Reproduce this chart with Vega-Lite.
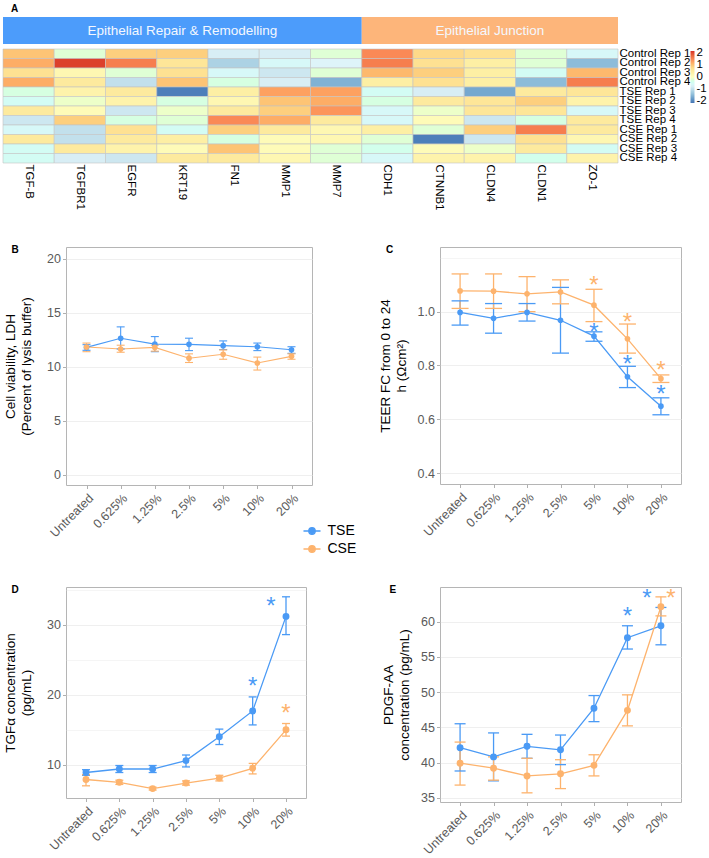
{
"$schema": "https://vega.github.io/schema/vega-lite/v6.json",
"padding": {"left": 2, "top": 4, "right": 0, "bottom": 0},
"background": "white",
"config": {"font": "Liberation Sans", "view": {"stroke": "#B5B5B5", "strokeWidth": 1}},
"datasets": {
"banner": [
{"group": "Epithelial Repair & Remodelling", "start": 0, "end": 7},
{"group": "Epithelial Junction", "start": 7, "end": 12}
],
"heat": [
{"s":"Control Rep 1","g":"TGF-B","z":1.0},{"s":"Control Rep 1","g":"TGFBR1","z":-0.2},{"s":"Control Rep 1","g":"EGFR","z":0.9},{"s":"Control Rep 1","g":"KRT19","z":0.9},{"s":"Control Rep 1","g":"FN1","z":-0.8},{"s":"Control Rep 1","g":"MMP1","z":-0.8},{"s":"Control Rep 1","g":"MMP7","z":-0.2},{"s":"Control Rep 1","g":"CDH1","z":1.5},{"s":"Control Rep 1","g":"CTNNB1","z":0.8},{"s":"Control Rep 1","g":"CLDN4","z":0.7},{"s":"Control Rep 1","g":"CLDN1","z":-0.2},{"s":"Control Rep 1","g":"ZO-1","z":-0.6},
{"s":"Control Rep 2","g":"TGF-B","z":1.2},{"s":"Control Rep 2","g":"TGFBR1","z":2.1},{"s":"Control Rep 2","g":"EGFR","z":1.6},{"s":"Control Rep 2","g":"KRT19","z":0.6},{"s":"Control Rep 2","g":"FN1","z":-1.2},{"s":"Control Rep 2","g":"MMP1","z":-0.6},{"s":"Control Rep 2","g":"MMP7","z":-0.7},{"s":"Control Rep 2","g":"CDH1","z":1.6},{"s":"Control Rep 2","g":"CTNNB1","z":0.7},{"s":"Control Rep 2","g":"CLDN4","z":0.4},{"s":"Control Rep 2","g":"CLDN1","z":-0.2},{"s":"Control Rep 2","g":"ZO-1","z":-1.5},
{"s":"Control Rep 3","g":"TGF-B","z":0.7},{"s":"Control Rep 3","g":"TGFBR1","z":0.2},{"s":"Control Rep 3","g":"EGFR","z":-0.2},{"s":"Control Rep 3","g":"KRT19","z":0.7},{"s":"Control Rep 3","g":"FN1","z":-0.6},{"s":"Control Rep 3","g":"MMP1","z":-0.9},{"s":"Control Rep 3","g":"MMP7","z":-0.2},{"s":"Control Rep 3","g":"CDH1","z":1.1},{"s":"Control Rep 3","g":"CTNNB1","z":0.9},{"s":"Control Rep 3","g":"CLDN4","z":0.4},{"s":"Control Rep 3","g":"CLDN1","z":-0.5},{"s":"Control Rep 3","g":"ZO-1","z":1.1},
{"s":"Control Rep 4","g":"TGF-B","z":1.2},{"s":"Control Rep 4","g":"TGFBR1","z":0.5},{"s":"Control Rep 4","g":"EGFR","z":-1.0},{"s":"Control Rep 4","g":"KRT19","z":1.0},{"s":"Control Rep 4","g":"FN1","z":-0.3},{"s":"Control Rep 4","g":"MMP1","z":-0.8},{"s":"Control Rep 4","g":"MMP7","z":-1.6},{"s":"Control Rep 4","g":"CDH1","z":0.4},{"s":"Control Rep 4","g":"CTNNB1","z":0.7},{"s":"Control Rep 4","g":"CLDN4","z":0.4},{"s":"Control Rep 4","g":"CLDN1","z":-1.5},{"s":"Control Rep 4","g":"ZO-1","z":1.6},
{"s":"TSE Rep 1","g":"TGF-B","z":-0.3},{"s":"TSE Rep 1","g":"TGFBR1","z":0.3},{"s":"TSE Rep 1","g":"EGFR","z":0.5},{"s":"TSE Rep 1","g":"KRT19","z":-2.1},{"s":"TSE Rep 1","g":"FN1","z":0.4},{"s":"TSE Rep 1","g":"MMP1","z":1.3},{"s":"TSE Rep 1","g":"MMP7","z":1.3},{"s":"TSE Rep 1","g":"CDH1","z":-0.5},{"s":"TSE Rep 1","g":"CTNNB1","z":-0.8},{"s":"TSE Rep 1","g":"CLDN4","z":-1.7},{"s":"TSE Rep 1","g":"CLDN1","z":0.5},{"s":"TSE Rep 1","g":"ZO-1","z":0.6},
{"s":"TSE Rep 2","g":"TGF-B","z":-0.5},{"s":"TSE Rep 2","g":"TGFBR1","z":-0.1},{"s":"TSE Rep 2","g":"EGFR","z":0.3},{"s":"TSE Rep 2","g":"KRT19","z":-0.3},{"s":"TSE Rep 2","g":"FN1","z":0.2},{"s":"TSE Rep 2","g":"MMP1","z":1.0},{"s":"TSE Rep 2","g":"MMP7","z":1.2},{"s":"TSE Rep 2","g":"CDH1","z":-0.3},{"s":"TSE Rep 2","g":"CTNNB1","z":0.5},{"s":"TSE Rep 2","g":"CLDN4","z":0.6},{"s":"TSE Rep 2","g":"CLDN1","z":0.9},{"s":"TSE Rep 2","g":"ZO-1","z":0.3},
{"s":"TSE Rep 3","g":"TGF-B","z":0.5},{"s":"TSE Rep 3","g":"TGFBR1","z":0.1},{"s":"TSE Rep 3","g":"EGFR","z":-0.9},{"s":"TSE Rep 3","g":"KRT19","z":-0.1},{"s":"TSE Rep 3","g":"FN1","z":0.5},{"s":"TSE Rep 3","g":"MMP1","z":0.9},{"s":"TSE Rep 3","g":"MMP7","z":1.4},{"s":"TSE Rep 3","g":"CDH1","z":-0.6},{"s":"TSE Rep 3","g":"CTNNB1","z":-0.1},{"s":"TSE Rep 3","g":"CLDN4","z":0.6},{"s":"TSE Rep 3","g":"CLDN1","z":0.6},{"s":"TSE Rep 3","g":"ZO-1","z":-0.6},
{"s":"TSE Rep 4","g":"TGF-B","z":-0.9},{"s":"TSE Rep 4","g":"TGFBR1","z":0.9},{"s":"TSE Rep 4","g":"EGFR","z":-0.3},{"s":"TSE Rep 4","g":"KRT19","z":-0.2},{"s":"TSE Rep 4","g":"FN1","z":1.5},{"s":"TSE Rep 4","g":"MMP1","z":1.2},{"s":"TSE Rep 4","g":"MMP7","z":0.5},{"s":"TSE Rep 4","g":"CDH1","z":-0.6},{"s":"TSE Rep 4","g":"CTNNB1","z":0.1},{"s":"TSE Rep 4","g":"CLDN4","z":-0.9},{"s":"TSE Rep 4","g":"CLDN1","z":-0.3},{"s":"TSE Rep 4","g":"ZO-1","z":0.5},
{"s":"CSE Rep 1","g":"TGF-B","z":-0.6},{"s":"CSE Rep 1","g":"TGFBR1","z":-1.0},{"s":"CSE Rep 1","g":"EGFR","z":0.7},{"s":"CSE Rep 1","g":"KRT19","z":-0.5},{"s":"CSE Rep 1","g":"FN1","z":0.9},{"s":"CSE Rep 1","g":"MMP1","z":0.5},{"s":"CSE Rep 1","g":"MMP7","z":0.2},{"s":"CSE Rep 1","g":"CDH1","z":0.4},{"s":"CSE Rep 1","g":"CTNNB1","z":-0.2},{"s":"CSE Rep 1","g":"CLDN4","z":0.9},{"s":"CSE Rep 1","g":"CLDN1","z":1.6},{"s":"CSE Rep 1","g":"ZO-1","z":0.5},
{"s":"CSE Rep 2","g":"TGF-B","z":0.5},{"s":"CSE Rep 2","g":"TGFBR1","z":-1.0},{"s":"CSE Rep 2","g":"EGFR","z":0.5},{"s":"CSE Rep 2","g":"KRT19","z":0.4},{"s":"CSE Rep 2","g":"FN1","z":-0.3},{"s":"CSE Rep 2","g":"MMP1","z":0.1},{"s":"CSE Rep 2","g":"MMP7","z":0.2},{"s":"CSE Rep 2","g":"CDH1","z":-0.2},{"s":"CSE Rep 2","g":"CTNNB1","z":-2.1},{"s":"CSE Rep 2","g":"CLDN4","z":-0.9},{"s":"CSE Rep 2","g":"CLDN1","z":0.7},{"s":"CSE Rep 2","g":"ZO-1","z":0.2},
{"s":"CSE Rep 3","g":"TGF-B","z":-0.5},{"s":"CSE Rep 3","g":"TGFBR1","z":0.5},{"s":"CSE Rep 3","g":"EGFR","z":0.3},{"s":"CSE Rep 3","g":"KRT19","z":0.1},{"s":"CSE Rep 3","g":"FN1","z":1.0},{"s":"CSE Rep 3","g":"MMP1","z":0.1},{"s":"CSE Rep 3","g":"MMP7","z":-0.2},{"s":"CSE Rep 3","g":"CDH1","z":-0.4},{"s":"CSE Rep 3","g":"CTNNB1","z":0.1},{"s":"CSE Rep 3","g":"CLDN4","z":-0.1},{"s":"CSE Rep 3","g":"CLDN1","z":0.5},{"s":"CSE Rep 3","g":"ZO-1","z":-0.5},
{"s":"CSE Rep 4","g":"TGF-B","z":-0.5},{"s":"CSE Rep 4","g":"TGFBR1","z":-0.8},{"s":"CSE Rep 4","g":"EGFR","z":-0.9},{"s":"CSE Rep 4","g":"KRT19","z":0.5},{"s":"CSE Rep 4","g":"FN1","z":0.5},{"s":"CSE Rep 4","g":"MMP1","z":0.2},{"s":"CSE Rep 4","g":"MMP7","z":-0.2},{"s":"CSE Rep 4","g":"CDH1","z":-0.6},{"s":"CSE Rep 4","g":"CTNNB1","z":0.3},{"s":"CSE Rep 4","g":"CLDN4","z":0.3},{"s":"CSE Rep 4","g":"CLDN1","z":-0.4},{"s":"CSE Rep 4","g":"ZO-1","z":0.3}
],
"series": [
{"panel":"B","conc":"Untreated","group":"TSE","mean":11.8,"lo":11.53,"hi":12.05},
{"panel":"B","conc":"0.625%","group":"TSE","mean":12.65,"lo":11.65,"hi":13.7},
{"panel":"B","conc":"1.25%","group":"TSE","mean":12.1,"lo":11.4,"hi":12.8},
{"panel":"B","conc":"2.5%","group":"TSE","mean":12.08,"lo":11.5,"hi":12.65},
{"panel":"B","conc":"5%","group":"TSE","mean":11.96,"lo":11.6,"hi":12.4},
{"panel":"B","conc":"10%","group":"TSE","mean":11.86,"lo":11.5,"hi":12.2},
{"panel":"B","conc":"20%","group":"TSE","mean":11.58,"lo":11.25,"hi":11.86},
{"panel":"B","conc":"Untreated","group":"CSE","mean":11.83,"lo":11.4,"hi":12.2},
{"panel":"B","conc":"0.625%","group":"CSE","mean":11.65,"lo":11.35,"hi":12.0},
{"panel":"B","conc":"1.25%","group":"CSE","mean":11.8,"lo":11.45,"hi":12.0},
{"panel":"B","conc":"2.5%","group":"CSE","mean":10.8,"lo":10.4,"hi":11.2},
{"panel":"B","conc":"5%","group":"CSE","mean":11.16,"lo":10.7,"hi":11.56},
{"panel":"B","conc":"10%","group":"CSE","mean":10.35,"lo":9.7,"hi":10.9},
{"panel":"B","conc":"20%","group":"CSE","mean":10.97,"lo":10.7,"hi":11.2},
{"panel":"C","conc":"Untreated","group":"TSE","mean":0.997,"lo":0.95,"hi":1.04},
{"panel":"C","conc":"0.625%","group":"TSE","mean":0.975,"lo":0.92,"hi":1.03},
{"panel":"C","conc":"1.25%","group":"TSE","mean":0.997,"lo":0.965,"hi":1.03},
{"panel":"C","conc":"2.5%","group":"TSE","mean":0.968,"lo":0.846,"hi":1.09},
{"panel":"C","conc":"5%","group":"TSE","mean":0.909,"lo":0.89,"hi":0.925},
{"panel":"C","conc":"10%","group":"TSE","mean":0.758,"lo":0.718,"hi":0.797},
{"panel":"C","conc":"20%","group":"TSE","mean":0.649,"lo":0.617,"hi":0.68},
{"panel":"C","conc":"Untreated","group":"CSE","mean":1.077,"lo":1.012,"hi":1.14},
{"panel":"C","conc":"0.625%","group":"CSE","mean":1.076,"lo":1.012,"hi":1.14},
{"panel":"C","conc":"1.25%","group":"CSE","mean":1.066,"lo":1.0,"hi":1.13},
{"panel":"C","conc":"2.5%","group":"CSE","mean":1.073,"lo":1.029,"hi":1.118},
{"panel":"C","conc":"5%","group":"CSE","mean":1.024,"lo":0.963,"hi":1.083},
{"panel":"C","conc":"10%","group":"CSE","mean":0.899,"lo":0.846,"hi":0.954},
{"panel":"C","conc":"20%","group":"CSE","mean":0.751,"lo":0.737,"hi":0.765},
{"panel":"D","conc":"Untreated","group":"TSE","mean":8.9,"lo":8.5,"hi":9.3},
{"panel":"D","conc":"0.625%","group":"TSE","mean":9.4,"lo":8.9,"hi":9.9},
{"panel":"D","conc":"1.25%","group":"TSE","mean":9.4,"lo":8.9,"hi":9.9},
{"panel":"D","conc":"2.5%","group":"TSE","mean":10.6,"lo":9.7,"hi":11.4},
{"panel":"D","conc":"5%","group":"TSE","mean":14.0,"lo":12.9,"hi":15.1},
{"panel":"D","conc":"10%","group":"TSE","mean":17.7,"lo":15.7,"hi":19.7},
{"panel":"D","conc":"20%","group":"TSE","mean":31.2,"lo":28.6,"hi":34.0},
{"panel":"D","conc":"Untreated","group":"CSE","mean":7.9,"lo":7.0,"hi":8.6},
{"panel":"D","conc":"0.625%","group":"CSE","mean":7.5,"lo":7.2,"hi":7.8},
{"panel":"D","conc":"1.25%","group":"CSE","mean":6.6,"lo":6.4,"hi":6.8},
{"panel":"D","conc":"2.5%","group":"CSE","mean":7.4,"lo":7.1,"hi":7.7},
{"panel":"D","conc":"5%","group":"CSE","mean":8.1,"lo":7.7,"hi":8.5},
{"panel":"D","conc":"10%","group":"CSE","mean":9.5,"lo":8.7,"hi":10.2},
{"panel":"D","conc":"20%","group":"CSE","mean":15.0,"lo":14.1,"hi":15.9},
{"panel":"E","conc":"Untreated","group":"TSE","mean":42.1,"lo":38.8,"hi":45.5},
{"panel":"E","conc":"0.625%","group":"TSE","mean":40.8,"lo":37.4,"hi":44.2},
{"panel":"E","conc":"1.25%","group":"TSE","mean":42.3,"lo":40.6,"hi":44.0},
{"panel":"E","conc":"2.5%","group":"TSE","mean":41.8,"lo":39.7,"hi":43.9},
{"panel":"E","conc":"5%","group":"TSE","mean":47.7,"lo":45.8,"hi":49.5},
{"panel":"E","conc":"10%","group":"TSE","mean":57.7,"lo":56.1,"hi":59.4},
{"panel":"E","conc":"20%","group":"TSE","mean":59.4,"lo":56.7,"hi":62.0},
{"panel":"E","conc":"Untreated","group":"CSE","mean":39.9,"lo":36.8,"hi":42.9},
{"panel":"E","conc":"0.625%","group":"CSE","mean":39.2,"lo":37.5,"hi":40.8},
{"panel":"E","conc":"1.25%","group":"CSE","mean":38.1,"lo":35.7,"hi":40.6},
{"panel":"E","conc":"2.5%","group":"CSE","mean":38.4,"lo":36.3,"hi":40.4},
{"panel":"E","conc":"5%","group":"CSE","mean":39.6,"lo":38.1,"hi":41.1},
{"panel":"E","conc":"10%","group":"CSE","mean":47.4,"lo":45.2,"hi":49.6},
{"panel":"E","conc":"20%","group":"CSE","mean":62.1,"lo":60.8,"hi":63.5}
],
"stars": [
{"panel":"C","conc":"5%","group":"CSE","y":1.122},
{"panel":"C","conc":"10%","group":"CSE","y":0.985},
{"panel":"C","conc":"20%","group":"CSE","y":0.805},
{"panel":"C","conc":"5%","group":"TSE","y":0.945},
{"panel":"C","conc":"10%","group":"TSE","y":0.828},
{"panel":"C","conc":"20%","group":"TSE","y":0.715},
{"panel":"D","conc":"10%","group":"TSE","y":22.1},
{"panel":"D","conc":"20%","group":"TSE","y":33.6},
{"panel":"D","conc":"20%","group":"CSE","y":18.3},
{"panel":"E","conc":"10%","group":"TSE","y":61.6},
{"panel":"E","conc":"20%","group":"TSE","y":64.2},
{"panel":"E","conc":"20%","group":"CSE","y":64.2}
]
},
"spacing": 33,
"vconcat": [
{
"spacing": 3,
"vconcat": [
{
"width": 552, "height": 27,
"view": {"stroke": null},
"title": {"text": "A", "anchor": "start", "frame": "bounds", "fontSize": 10, "fontWeight": "bold", "dx": 8, "offset": 3},
"data": {"name": "banner"},
"layer": [
{"transform": [{"filter": "datum.start === 0"}], "mark": {"type": "rect", "color": "#4C9CFB"},
 "encoding": {"x": {"field": "start", "type": "quantitative", "scale": {"domain": [0, 12], "nice": false, "range": [-63, 552]}, "axis": null}, "x2": {"field": "end"}}},
{"transform": [{"filter": "datum.start === 7"}], "mark": {"type": "rect", "color": "#FDB57A"},
 "encoding": {"x": {"field": "start", "type": "quantitative"}, "x2": {"field": "end"}}},
{"transform": [{"calculate": "(datum.start + datum.end) / 2", "as": "mid"}], "mark": {"type": "text", "color": "#F4F8FF", "fontSize": 13.5, "baseline": "middle"},
 "encoding": {"x": {"field": "mid", "type": "quantitative"}, "text": {"field": "group"}}}
]
},
{
"width": 552, "height": 114,
"view": {"stroke": null},
"data": {"name": "heat"},
"mark": {"type": "rect", "stroke": "#C4C4C4", "strokeWidth": 0.6},
"encoding": {
"x": {"field": "g", "type": "nominal", "sort": ["TGF-B","TGFBR1","EGFR","KRT19","FN1","MMP1","MMP7","CDH1","CTNNB1","CLDN4","CLDN1","ZO-1"],
 "scale": {"paddingInner": 0, "paddingOuter": 0, "range": [-63, 552]},
 "axis": {"title": null, "orient": "bottom", "labelAngle": 90, "labelAlign": "left", "labelBaseline": "middle", "ticks": false, "domain": false, "labelPadding": 1, "labelFontSize": 11.5, "labelColor": "black"}},
"y": {"field": "s", "type": "nominal", "sort": ["Control Rep 1","Control Rep 2","Control Rep 3","Control Rep 4","TSE Rep 1","TSE Rep 2","TSE Rep 3","TSE Rep 4","CSE Rep 1","CSE Rep 2","CSE Rep 3","CSE Rep 4"],
 "scale": {"paddingInner": 0, "paddingOuter": 0},
 "axis": {"title": null, "orient": "right", "ticks": false, "domain": false, "labelPadding": 1, "labelFontSize": 11.5, "labelColor": "black", "labelAlign": "left", "labelBaseline": "middle"}},
"fill": {"field": "z", "type": "quantitative",
 "scale": {"domain": [-2.2, -1.4667, -0.7333, 0, 0.7333, 1.4667, 2.2], "range": ["#4575B4","#91BFDB","#E0F3F8","#FFFFBF","#FEE090","#FC8D59","#D73027"]},
 "legend": {"orient": "none", "legendX": 624.5, "legendY": 34, "title": null, "direction": "vertical", "gradientLength": 52, "gradientThickness": 4, "values": [-2,-1,0,1,2], "labelExpr": "datum.value < 0 ? '-' + abs(datum.value) : datum.label", "labelFontSize": 11.5, "labelColor": "black", "labelOffset": 2, "gradientStrokeWidth": 0}}
}
}
]
},
{
"spacing": 44,
"vconcat": [
{
"spacing": 64,
"hconcat": [
{
"width": 246, "height": 238,
"title": {"text": "B", "anchor": "start", "frame": "bounds", "fontSize": 10, "fontWeight": "bold", "dx": 8, "offset": -8},
"encoding": {
 "x": {"field": "conc", "type": "ordinal", "sort": ["Untreated","0.625%","1.25%","2.5%","5%","10%","20%"], "scale": {"type": "point", "padding": 0.6},
  "axis": {"title": null, "labelAngle": -45, "labelFontSize": 12.5, "labelColor": "#5A5A5A", "tickColor": "#B0B0B0", "tickSize": 3.5, "domain": false, "gridColor": "#EBEBEB", "gridWidth": 0.8, "labelPadding": 3}},
 "color": {"field": "group", "type": "nominal", "scale": {"domain": ["TSE","CSE"], "range": ["#4A9AF5","#FDB36D"]},
  "legend": {"orient": "none", "legendX": 236.5, "legendY": 504.5, "title": null, "direction": "vertical", "symbolType": "M-1,0H1M0.38,0A0.38,0.38 0 1,1 -0.38,0A0.38,0.38 0 1,1 0.38,0Z", "symbolSize": 290, "symbolStrokeWidth": 1.3, "labelFontSize": 14, "labelColor": "black", "labelOffset": 6, "rowPadding": 1}}
},
"layer": [
{"data": {"name": "series"}, "transform": [{"filter": "datum.panel === 'B'"}],
 "mark": {"type": "line", "strokeWidth": 1.1},
 "encoding": {
 "y": {"field": "mean", "type": "quantitative", "scale": {"domain": [-0.95, 21.1], "nice": false, "zero": false},
  "axis": {"title": ["Cell viability, LDH", "(Percent of lysis buffer)"], "titleFontSize": 13.5, "titleFontWeight": "normal", "titleColor": "black", "titleLineHeight": 16, "titlePadding": 13,
   "values": [0,2.5,5,7.5,10,12.5,15,17.5,20], "labelExpr": "datum.value % 5 === 0 ? datum.label : ''",
   "tickOpacity": {"condition": {"test": "datum.value % 5 !== 0", "value": 0}, "value": 1},
   "gridWidth": {"condition": {"test": "datum.value % 5 !== 0", "value": 0.5}, "value": 0.8},
   "gridColor": "#EBEBEB", "labelFontSize": 12.5, "labelColor": "#5A5A5A", "tickColor": "#B0B0B0", "tickSize": 3.5, "domain": false, "labelPadding": 2}}
 }},
{"data": {"name": "series"}, "transform": [{"filter": "datum.panel === 'B'"}],
 "mark": {"type": "rule", "strokeWidth": 1.1},
 "encoding": {"y": {"field": "lo", "type": "quantitative"}, "y2": {"field": "hi"}}},
{"data": {"name": "series"}, "transform": [{"filter": "datum.panel === 'B'"}],
 "mark": {"type": "tick", "size": 8, "thickness": 1.1, "opacity": 1},
 "encoding": {"y": {"field": "lo", "type": "quantitative"}}},
{"data": {"name": "series"}, "transform": [{"filter": "datum.panel === 'B'"}],
 "mark": {"type": "tick", "size": 8, "thickness": 1.1, "opacity": 1},
 "encoding": {"y": {"field": "hi", "type": "quantitative"}}},
{"data": {"name": "series"}, "transform": [{"filter": "datum.panel === 'B'"}],
 "mark": {"type": "point", "filled": true, "size": 32, "opacity": 1},
 "encoding": {"y": {"field": "mean", "type": "quantitative"}}}
]
},
{
"width": 241, "height": 237,
"title": {"text": "C", "anchor": "start", "frame": "bounds", "fontSize": 10, "fontWeight": "bold", "dx": 8, "offset": -8},
"encoding": {
 "x": {"field": "conc", "type": "ordinal", "sort": ["Untreated","0.625%","1.25%","2.5%","5%","10%","20%"], "scale": {"type": "point", "padding": 0.6},
  "axis": {"title": null, "labelAngle": -45, "labelFontSize": 12.5, "labelColor": "#5A5A5A", "tickColor": "#B0B0B0", "tickSize": 3.5, "domain": false, "gridColor": "#EBEBEB", "gridWidth": 0.8, "labelPadding": 3}},
 "color": {"field": "group", "type": "nominal", "scale": {"domain": ["TSE","CSE"], "range": ["#4A9AF5","#FDB36D"]}}
},
"layer": [
{"data": {"name": "series"}, "transform": [{"filter": "datum.panel === 'C'"}],
 "mark": {"type": "line", "strokeWidth": 1.3},
 "encoding": {
 "y": {"field": "mean", "type": "quantitative", "scale": {"domain": [0.36, 1.24], "nice": false, "zero": false},
  "axis": {"title": ["TEER FC from 0 to 24", "h (Ωcm²)"], "titleFontSize": 13.5, "titleFontWeight": "normal", "titleColor": "black", "titleLineHeight": 16, "titlePadding": 9,
   "values": [0.4,0.5,0.6,0.7,0.8,0.9,1,1.1,1.2], "format": ".1f",
   "labelExpr": "(datum.value === 0.4 || datum.value === 0.6 || datum.value === 0.8 || datum.value === 1) ? datum.label : ''",
   "tickOpacity": {"condition": {"test": "datum.value === 0.4 || datum.value === 0.6 || datum.value === 0.8 || datum.value === 1", "value": 1}, "value": 0},
   "gridWidth": {"condition": {"test": "datum.value === 0.4 || datum.value === 0.6 || datum.value === 0.8 || datum.value === 1", "value": 0.8}, "value": 0.5},
   "gridColor": "#EBEBEB", "labelFontSize": 12.5, "labelColor": "#5A5A5A", "tickColor": "#B0B0B0", "tickSize": 3.5, "domain": false, "labelPadding": 2}}
 }},
{"data": {"name": "series"}, "transform": [{"filter": "datum.panel === 'C'"}],
 "mark": {"type": "rule", "strokeWidth": 1.3},
 "encoding": {"y": {"field": "lo", "type": "quantitative"}, "y2": {"field": "hi"}}},
{"data": {"name": "series"}, "transform": [{"filter": "datum.panel === 'C'"}],
 "mark": {"type": "tick", "size": 17, "thickness": 1.3, "opacity": 1},
 "encoding": {"y": {"field": "lo", "type": "quantitative"}}},
{"data": {"name": "series"}, "transform": [{"filter": "datum.panel === 'C'"}],
 "mark": {"type": "tick", "size": 17, "thickness": 1.3, "opacity": 1},
 "encoding": {"y": {"field": "hi", "type": "quantitative"}}},
{"data": {"name": "series"}, "transform": [{"filter": "datum.panel === 'C'"}],
 "mark": {"type": "point", "filled": true, "size": 32, "opacity": 1},
 "encoding": {"y": {"field": "mean", "type": "quantitative"}}},
{"data": {"name": "stars"}, "transform": [{"filter": "datum.panel === 'C'"}],
 "mark": {"type": "text", "text": "*", "fontSize": 24, "baseline": "alphabetic", "dy": 14},
 "encoding": {"y": {"field": "y", "type": "quantitative"}}}
]
}
]
},
{
"spacing": 74,
"hconcat": [
{
"width": 240, "height": 211,
"title": {"text": "D", "anchor": "start", "frame": "bounds", "fontSize": 10, "fontWeight": "bold", "dx": 8, "offset": -8},
"encoding": {
 "x": {"field": "conc", "type": "ordinal", "sort": ["Untreated","0.625%","1.25%","2.5%","5%","10%","20%"], "scale": {"type": "point", "padding": 0.6},
  "axis": {"title": null, "labelAngle": -45, "labelFontSize": 12.5, "labelColor": "#5A5A5A", "tickColor": "#B0B0B0", "tickSize": 3.5, "domain": false, "gridColor": "#EBEBEB", "gridWidth": 0.8, "labelPadding": 3}},
 "color": {"field": "group", "type": "nominal", "scale": {"domain": ["TSE","CSE"], "range": ["#4A9AF5","#FDB36D"]}}
},
"layer": [
{"data": {"name": "series"}, "transform": [{"filter": "datum.panel === 'D'"}],
 "mark": {"type": "line", "strokeWidth": 1.3},
 "encoding": {
 "y": {"field": "mean", "type": "quantitative", "scale": {"domain": [5.26, 35.4], "nice": false, "zero": false},
  "axis": {"title": ["TGFα concentration", "(pg/mL)"], "titleFontSize": 13.5, "titleFontWeight": "normal", "titleColor": "black", "titleLineHeight": 16, "titlePadding": 13,
   "values": [10,15,20,25,30,35], "labelExpr": "datum.value % 10 === 0 ? datum.label : ''",
   "tickOpacity": {"condition": {"test": "datum.value % 10 !== 0", "value": 0}, "value": 1},
   "gridWidth": {"condition": {"test": "datum.value % 10 !== 0", "value": 0.5}, "value": 0.8},
   "gridColor": "#EBEBEB", "labelFontSize": 12.5, "labelColor": "#5A5A5A", "tickColor": "#B0B0B0", "tickSize": 3.5, "domain": false, "labelPadding": 2}}
 }},
{"data": {"name": "series"}, "transform": [{"filter": "datum.panel === 'D'"}],
 "mark": {"type": "rule", "strokeWidth": 1.3},
 "encoding": {"y": {"field": "lo", "type": "quantitative"}, "y2": {"field": "hi"}}},
{"data": {"name": "series"}, "transform": [{"filter": "datum.panel === 'D'"}],
 "mark": {"type": "tick", "size": 8, "thickness": 1.3, "opacity": 1},
 "encoding": {"y": {"field": "lo", "type": "quantitative"}}},
{"data": {"name": "series"}, "transform": [{"filter": "datum.panel === 'D'"}],
 "mark": {"type": "tick", "size": 8, "thickness": 1.3, "opacity": 1},
 "encoding": {"y": {"field": "hi", "type": "quantitative"}}},
{"data": {"name": "series"}, "transform": [{"filter": "datum.panel === 'D'"}],
 "mark": {"type": "point", "filled": true, "size": 48, "opacity": 1},
 "encoding": {"y": {"field": "mean", "type": "quantitative"}}},
{"data": {"name": "stars"}, "transform": [{"filter": "datum.panel === 'D' && !(datum.conc === '20%' && datum.group === 'TSE')"}],
 "mark": {"type": "text", "text": "*", "fontSize": 24, "baseline": "alphabetic", "dy": 14},
 "encoding": {"y": {"field": "y", "type": "quantitative"}}},
{"data": {"name": "stars"}, "transform": [{"filter": "datum.panel === 'D' && datum.conc === '20%' && datum.group === 'TSE'"}],
 "mark": {"type": "text", "text": "*", "fontSize": 24, "baseline": "alphabetic", "dy": 14, "dx": -15},
 "encoding": {"y": {"field": "y", "type": "quantitative"}}}
]
},
{
"width": 241, "height": 215,
"title": {"text": "E", "anchor": "start", "frame": "bounds", "fontSize": 10, "fontWeight": "bold", "dx": 8, "offset": -8},
"encoding": {
 "x": {"field": "conc", "type": "ordinal", "sort": ["Untreated","0.625%","1.25%","2.5%","5%","10%","20%"], "scale": {"type": "point", "padding": 0.6},
  "axis": {"title": null, "labelAngle": -45, "labelFontSize": 12.5, "labelColor": "#5A5A5A", "tickColor": "#B0B0B0", "tickSize": 3.5, "domain": false, "gridColor": "#EBEBEB", "gridWidth": 0.8, "labelPadding": 3}},
 "color": {"field": "group", "type": "nominal", "scale": {"domain": ["TSE","CSE"], "range": ["#4A9AF5","#FDB36D"]}}
},
"layer": [
{"data": {"name": "series"}, "transform": [{"filter": "datum.panel === 'E'"}],
 "mark": {"type": "line", "strokeWidth": 1.3},
 "encoding": {
 "y": {"field": "mean", "type": "quantitative", "scale": {"domain": [34.4, 64.9], "nice": false, "zero": false},
  "axis": {"title": ["PDGF-AA", "concentration (pg/mL)"], "titleFontSize": 13.5, "titleFontWeight": "normal", "titleColor": "black", "titleLineHeight": 16, "titlePadding": 9,
   "values": [35,37.5,40,42.5,45,47.5,50,52.5,55,57.5,60,62.5], "labelExpr": "datum.value % 5 === 0 ? datum.label : ''",
   "tickOpacity": {"condition": {"test": "datum.value % 5 !== 0", "value": 0}, "value": 1},
   "gridWidth": {"condition": {"test": "datum.value % 5 !== 0", "value": 0.5}, "value": 0.8},
   "gridColor": "#EBEBEB", "labelFontSize": 12.5, "labelColor": "#5A5A5A", "tickColor": "#B0B0B0", "tickSize": 3.5, "domain": false, "labelPadding": 2}}
 }},
{"data": {"name": "series"}, "transform": [{"filter": "datum.panel === 'E'"}],
 "mark": {"type": "rule", "strokeWidth": 1.3},
 "encoding": {"y": {"field": "lo", "type": "quantitative"}, "y2": {"field": "hi"}}},
{"data": {"name": "series"}, "transform": [{"filter": "datum.panel === 'E'"}],
 "mark": {"type": "tick", "size": 11, "thickness": 1.3, "opacity": 1},
 "encoding": {"y": {"field": "lo", "type": "quantitative"}}},
{"data": {"name": "series"}, "transform": [{"filter": "datum.panel === 'E'"}],
 "mark": {"type": "tick", "size": 11, "thickness": 1.3, "opacity": 1},
 "encoding": {"y": {"field": "hi", "type": "quantitative"}}},
{"data": {"name": "series"}, "transform": [{"filter": "datum.panel === 'E'"}],
 "mark": {"type": "point", "filled": true, "size": 48, "opacity": 1},
 "encoding": {"y": {"field": "mean", "type": "quantitative"}}},
{"data": {"name": "stars"}, "transform": [{"filter": "datum.panel === 'E' && datum.conc === '10%'"}],
 "mark": {"type": "text", "text": "*", "fontSize": 24, "baseline": "alphabetic", "dy": 14},
 "encoding": {"y": {"field": "y", "type": "quantitative"}}},
{"data": {"name": "stars"}, "transform": [{"filter": "datum.panel === 'E' && datum.conc === '20%' && datum.group === 'TSE'"}],
 "mark": {"type": "text", "text": "*", "fontSize": 24, "baseline": "alphabetic", "dy": 14, "dx": -14},
 "encoding": {"y": {"field": "y", "type": "quantitative"}}},
{"data": {"name": "stars"}, "transform": [{"filter": "datum.panel === 'E' && datum.conc === '20%' && datum.group === 'CSE'"}],
 "mark": {"type": "text", "text": "*", "fontSize": 24, "baseline": "alphabetic", "dy": 14, "dx": 10},
 "encoding": {"y": {"field": "y", "type": "quantitative"}}}
]
}
]
}
]
}
]
}
